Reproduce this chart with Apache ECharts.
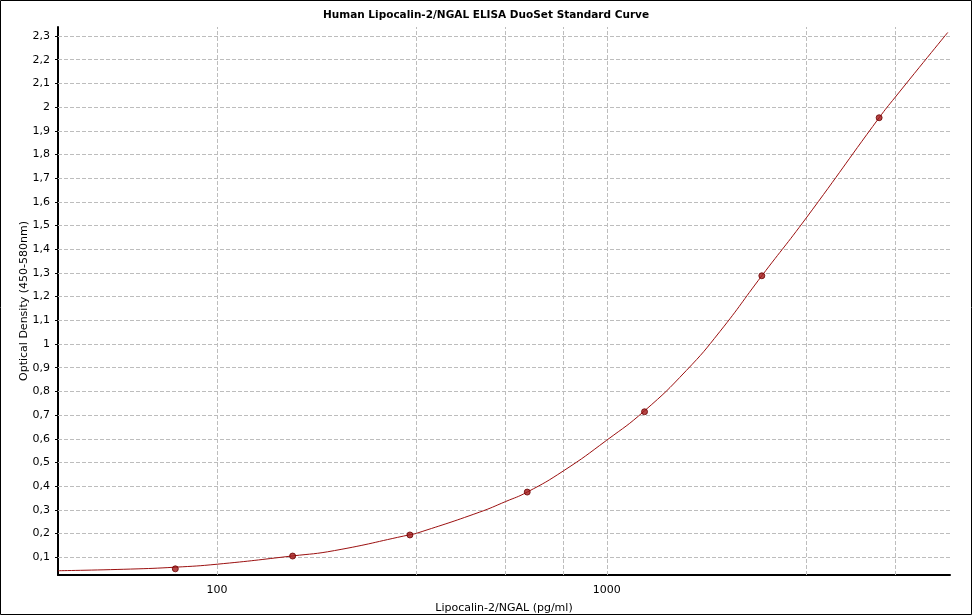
<!DOCTYPE html>
<html>
<head>
<meta charset="utf-8">
<script src="https://cdn.jsdelivr.net/npm/echarts@6/dist/echarts.min.js"></script>
<style>
html,body{margin:0;padding:0;background:#fff;}
#chart{width:972px;height:615px;}
</style>
</head>
<body>
<div id="chart"></div>
<script>
// Standards (pg/ml) and measured optical density
const concentrations = [78.125, 156.25, 312.5, 625, 1250, 2500, 5000];
const odValues = [0.051, 0.105, 0.194, 0.375, 0.714, 1.288, 1.955];
// Fitted curve
const curveX = [39.06, 60, 78.125, 100, 156.25, 200, 312.5, 325, 471, 550, 625, 775, 1000, 1250, 1600, 1950, 2500, 3250, 5000, 5500, 7500];
const curveY = [0.043, 0.050, 0.058, 0.0705, 0.1055, 0.128, 0.195, 0.201, 0.29, 0.335, 0.375, 0.465, 0.594, 0.718, 0.888, 1.052, 1.288, 1.532, 1.955, 2.042, 2.315];
// Grid positions
const xGridValues = [100, 325, 550, 775, 1000, 3250, 5500];
const yGridValues = [0.1, 0.2, 0.3, 0.4, 0.5, 0.6, 0.7, 0.8, 0.9, 1, 1.1, 1.2, 1.3, 1.4, 1.5, 1.6, 1.7, 1.8, 1.9, 2, 2.1, 2.2, 2.3];

const chart = echarts.init(document.getElementById('chart'));
const FONT = 'DejaVu Sans';
const gridColor = '#bdbdbd';
const gridLine = { color: gridColor, type: [4, 2], width: 1 };

chart.setOption({
  animation: false,
  backgroundColor: '#fff',
  textStyle: { fontFamily: FONT },
  title: {
    text: 'Human Lipocalin-2/NGAL ELISA DuoSet Standard Curve',
    left: 'center',
    top: 5,
    textStyle: { fontFamily: FONT, fontSize: 10.5, fontWeight: 'bold', color: '#000' }
  },
  graphic: [{
    type: 'rect',
    shape: { x: 0.5, y: 0.5, width: 971, height: 614 },
    style: { fill: 'none', stroke: '#000', lineWidth: 1 },
    silent: true
  }],
  grid: { left: 58, right: 22, top: 27, bottom: 40, containLabel: false, outerBoundsMode: 'none' },
  xAxis: {
    type: 'log',
    logBase: 10,
    min: 39.0625,
    max: 7600,
    name: 'Lipocalin-2/NGAL (pg/ml)',
    nameLocation: 'middle',
    nameGap: 28,
    nameMoveOverlap: false,
    nameTextStyle: { fontFamily: FONT, fontSize: 11, color: '#000' },
    axisLine: { show: true, onZero: false, lineStyle: { color: '#000', width: 2 } },
    axisTick: { show: false },
    axisLabel: {
      show: true, showMinLabel: false, showMaxLabel: false,
      fontFamily: FONT, fontSize: 11, color: '#000', margin: 10,
      formatter: function (v) { return String(Math.round(v)); }
    },
    splitLine: { show: false }
  },
  yAxis: {
    type: 'value',
    min: 0.025,
    max: 2.338,
    splitNumber: 23,
    name: 'Optical Density (450-580nm)',
    nameLocation: 'middle',
    nameGap: 28,
    nameMoveOverlap: false,
    nameTextStyle: { fontFamily: FONT, fontSize: 11, color: '#000' },
    axisLine: { show: true, lineStyle: { color: '#000', width: 2 } },
    axisTick: { show: true, length: 3, lineStyle: { color: '#000' } },
    axisLabel: {
      showMinLabel: false, showMaxLabel: false,
      fontFamily: FONT, fontSize: 11, color: '#000', margin: 8,
      formatter: function (v) { return String(Math.round(v * 10) / 10).replace('.', ','); }
    },
    splitLine: { show: false }
  },
  series: [
    {
      type: 'line',
      data: curveX.map((x, i) => [x, curveY[i]]),
      smooth: 0.5,
      showSymbol: false,
      symbol: 'none',
      lineStyle: { color: '#9b1010', width: 1 },
      silent: true,
      z: 3,
      markLine: {
        silent: true,
        symbol: 'none',
        z: 1,
        animation: false,
        label: { show: false },
        lineStyle: gridLine,
        data: xGridValues.map(v => ({ xAxis: v })).concat(yGridValues.map(v => ({ yAxis: v })))
      }
    },
    {
      type: 'scatter',
      data: concentrations.map((x, i) => [x, odValues[i]]),
      symbol: 'circle',
      symbolSize: 6,
      itemStyle: { color: '#a01818', borderColor: '#6a0000', borderWidth: 1 },
      z: 4
    }
  ]
});
</script>
</body>
</html>
